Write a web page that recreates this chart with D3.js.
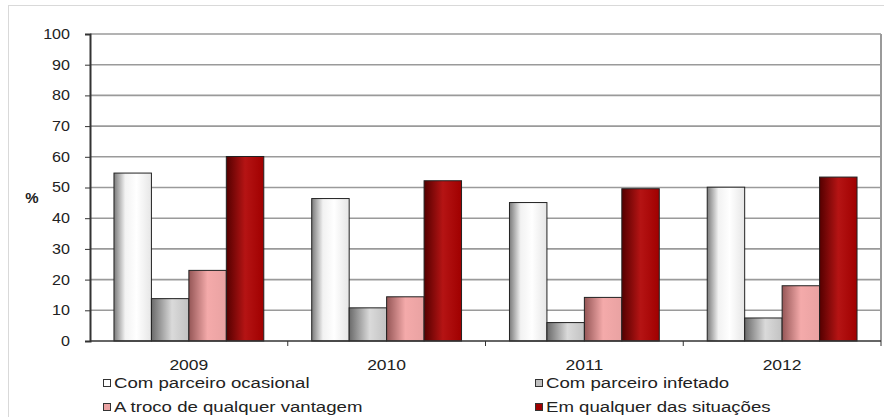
<!DOCTYPE html>
<html><head><meta charset="utf-8">
<script src="https://cdn.jsdelivr.net/npm/d3@7"></script>
<style>body{margin:0;background:#fff}svg{display:block}</style>
</head><body>
<svg id="c" width="884" height="417"></svg>
<script>
const years = ["2009","2010","2011","2012"];
const seriesNames = ["Com parceiro ocasional","Com parceiro infetado","A troco de qualquer vantagem","Em qualquer das situações"];
const ocasional = [54.7, 46.4, 45.1, 50.1];
const infetado = [13.8, 10.8, 6.0, 7.5];
const vantagem = [23.0, 14.4, 14.2, 18.0];
const qualquer = [60.1, 52.2, 49.6, 53.4];
const yTicks = [0,10,20,30,40,50,60,70,80,90,100];
const seriesValues = [ocasional, infetado, vantagem, qualquer];

const svg = d3.select("#c");
const font = "'Liberation Sans', Arial, sans-serif";
const pL = 90, pR = 881, pT = 34, pB = 341;

function stretch(sel, k) {
  sel.each(function(){
    const w = this.getComputedTextLength();
    d3.select(this).attr("textLength", w * k).attr("lengthAdjust","spacingAndGlyphs");
  });
}

const grads = [
  [["0%","#7a7a7a"],["30%","#f2f2f2"],["60%","#ffffff"],["100%","#e6e6e6"]],
  [["0%","#6a6a6a"],["55%","#dadada"],["100%","#c2c2c2"]],
  [["0%","#955656"],["50%","#f4aaaa"],["100%","#e9a2a2"]],
  [["0%","#550000"],["50%","#b51414"],["100%","#a00000"]]
];
const defs = svg.append("defs");
grads.forEach((g,i)=>{
  const lg = defs.append("linearGradient").attr("id","g"+i).attr("x1","0").attr("x2","1").attr("y1","0").attr("y2","0");
  g.forEach(s=>lg.append("stop").attr("offset",s[0]).attr("stop-color",s[1]));
});

// outer border
svg.append("rect").attr("x",8.5).attr("y",5.5).attr("width",900).attr("height",500)
  .attr("fill","none").attr("stroke","#d9d9d9");

const x0 = d3.scaleBand().domain(years).range([pL, pR]).padding(0);
const x1 = d3.scaleBand().domain(d3.range(4)).range([0, x0.bandwidth()]).paddingInner(0).paddingOuter(0.64);
const y = d3.scaleLinear().domain([0,100]).range([pB, pT]);

// gridlines
svg.append("g").selectAll("line").data(yTicks.filter(t=>t>0)).join("line")
  .attr("x1",pL).attr("x2",pR).attr("y1",d=>y(d)).attr("y2",d=>y(d))
  .attr("stroke","#9a9a9a").attr("stroke-width",1.6);
// right border of plot
svg.append("line").attr("x1",pR).attr("x2",pR).attr("y1",pT).attr("y2",pB)
  .attr("stroke","#9a9a9a").attr("stroke-width",2);

// bars
const groups = svg.append("g").selectAll("g").data(years).join("g")
  .attr("transform",d=>`translate(${x0(d)},0)`);
groups.selectAll("rect").data((d,yi)=>seriesValues.map((arr,si)=>({si, v:arr[yi]}))).join("rect")
  .attr("x",d=>x1(d.si)).attr("width",x1.bandwidth())
  .attr("y",d=>y(d.v)).attr("height",d=>y(0)-y(d.v))
  .attr("fill",d=>`url(#g${d.si})`).attr("stroke","#222").attr("stroke-width",1);

// y axis
const yAxis = d3.axisLeft(y).tickValues(yTicks).tickSize(5).tickPadding(15);
const ya = svg.append("g").attr("transform",`translate(${pL},0)`).call(yAxis);
ya.select(".domain").attr("stroke","#333").attr("stroke-width",2);
ya.selectAll(".tick line").attr("stroke","#333");
ya.selectAll("text").attr("font-family",font).attr("font-size",14).attr("fill","#222").call(stretch, 1.15);

// x axis
const xa = svg.append("g").attr("transform",`translate(0,${pB})`);
xa.append("line").attr("x1",pL).attr("x2",pR).attr("stroke","#333").attr("stroke-width",1.5);
xa.selectAll("line.t").data(years).join("line").attr("class","t")
  .attr("x1",d=>x0(d)+x0.bandwidth()).attr("x2",d=>x0(d)+x0.bandwidth()).attr("y1",0).attr("y2",5)
  .attr("stroke","#333");
xa.selectAll("text").data(years).join("text")
  .attr("x",d=>x0(d)+x0.bandwidth()/2).attr("y",29).attr("text-anchor","middle")
  .attr("font-family",font).attr("font-size",14).attr("fill","#222").text(d=>d).call(stretch, 1.25);

// % label
svg.append("text").attr("x",32).attr("y",203).attr("text-anchor","middle")
  .attr("font-family",font).attr("font-size",15).attr("font-weight","bold").attr("fill","#222").text("%");

// legend
const legPos = [[103,388],[535,388],[103,412],[535,412]];
const legFill = ["#ffffff","#c0c0c0","#eba3a3","#a00000"];
const lg = svg.append("g").selectAll("g").data(seriesNames).join("g")
  .attr("transform",(d,i)=>`translate(${legPos[i][0]},${legPos[i][1]})`);
lg.append("rect").attr("x",0.5).attr("y",-8.5).attr("width",7).attr("height",7)
  .attr("fill",(d,i)=>legFill[i]).attr("stroke","#333");
lg.append("text").attr("x",11).attr("y",0).attr("font-family",font).attr("font-size",14)
  .attr("fill","#222").text(d=>d).call(stretch, 1.33);
</script>
</body></html>
